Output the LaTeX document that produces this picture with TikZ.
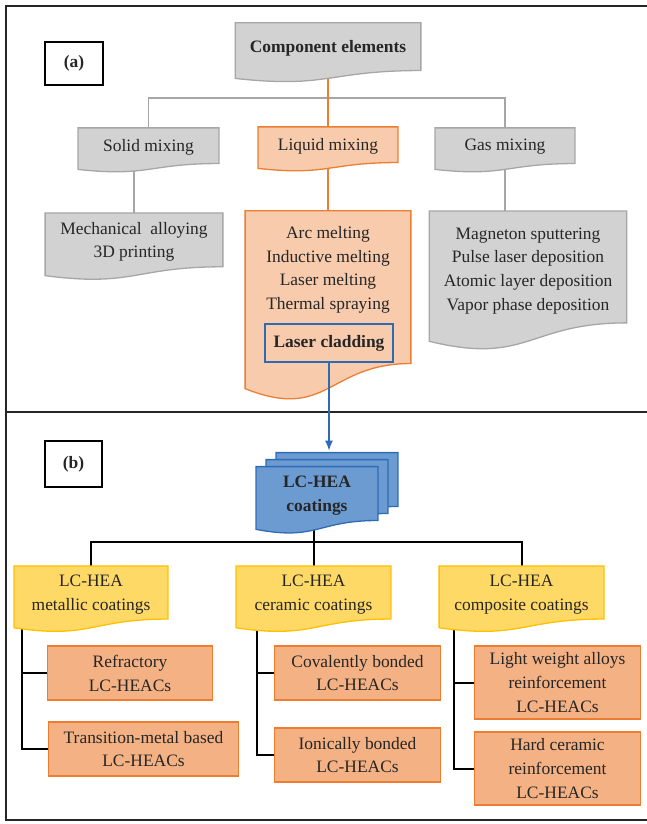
\documentclass[tikz,border=0pt]{standalone}
\usepackage{fontspec}
\setmainfont{Liberation Serif}
\newfontfamily\serifbox{Liberation Serif}
\usetikzlibrary{calc,backgrounds,arrows.meta}

\definecolor{peach}{RGB}{248,203,173}
\definecolor{darkpeach}{RGB}{244,177,131}
\definecolor{orangeline}{RGB}{237,125,49}
\definecolor{goldfill}{RGB}{255,217,102}
\definecolor{goldline}{RGB}{255,192,0}
\definecolor{bluefill}{RGB}{108,155,210}
\definecolor{blueline}{RGB}{46,107,181}

\newcommand{\boxfont}{\serifbox\fontsize{17.5}{24}\selectfont}
% wavy document outline between two corners of a node
\newcommand{\docoutline}[3]{%
  \path[#1] let \p1=(#2), \p2=(#3) in
    (\x1,\y1) -- (\x2,\y1) -- (\x2,{\y1+0.9324*(\y2-\y1)})
    .. controls ({0.5*(\x1+\x2)},{\y1+0.9324*(\y2-\y1)}) and ({0.5*(\x1+\x2)},{\y1+1.2878*(\y2-\y1)})
    .. (\x1,{\y1+1.0858*(\y2-\y1)}) -- cycle;}

\begin{document}
\begin{tikzpicture}[x=1bp, y=-1bp, font=\boxfont, text=black!85,
    doc/.style={inner sep=0pt, align=center},
    boldtxt/.style={font=\boxfont\bfseries},
    grayshape/.style={fill=gray!35, draw=gray!70, line width=1.3pt},
    peachshape/.style={fill=peach, draw=orangeline, line width=1.3pt},
    goldshape/.style={fill=goldfill, draw=goldline, line width=1.3pt},
    blueshape/.style={fill=bluefill, draw=blueline, line width=1.3pt},
    subbox/.style={fill=darkpeach, draw=orangeline, line width=1.5pt, inner sep=0pt, align=center},
    tagbox/.style={draw=black, line width=1.6pt, inner sep=0pt, boldtxt},
    grayline/.style={draw=gray!70, line width=1.6pt},
    orangelink/.style={draw=orangeline, line width=1.8pt},
    blackline/.style={draw=black, line width=2pt},
    frameline/.style={draw=black!85, line width=1.8pt}]

\useasboundingbox (0,0) rectangle (647,824);

% (a) part
\node[tagbox, minimum width=58, minimum height=43] (A) at (74,63.5) {(a)};
\node[doc, boldtxt, minimum width=186, minimum height=51] (CE) at (328,48.4) {Component elements};
\node[doc, minimum width=141, minimum height=38] (SM) at (148.5,147) {Solid mixing};
\node[doc, minimum width=140, minimum height=38] (LM) at (328,146) {Liquid mixing};
\node[doc, minimum width=140, minimum height=38] (GM) at (505,147) {Gas mixing};
\node[doc, minimum width=178, minimum height=57.6] (MA) at (134,241.8) {Mechanical\enspace alloying\\3D printing};
\node[doc, minimum width=166] (AM) at (328,292.7) {\parbox[c][163.4bp][t]{160bp}{\centering\vspace*{15bp}Arc melting\\Inductive melting\\Laser melting\\Thermal spraying}};
\node[fill=peach, draw=blueline, line width=1.5pt, inner sep=0pt, boldtxt, minimum width=128, minimum height=38] (LC) at (329,343) {Laser cladding};
\node[doc, minimum width=198, minimum height=120] (GD) at (528,271) {Magneton sputtering\\Pulse laser deposition\\Atomic layer deposition\\Vapor phase deposition};

% (b) part
\node[tagbox, minimum width=57, minimum height=46] (B) at (73.5,464) {(b)};
\node[doc, boldtxt, minimum width=122, minimum height=57.6] (CT) at (317,495.5) {LC-HEA\\coatings};
\node[doc, minimum width=154, minimum height=56.8] (MC) at (91,594.4) {LC-HEA\\metallic coatings};
\node[doc, minimum width=155, minimum height=56.8] (CC) at (313.5,594.4) {LC-HEA\\ceramic coatings};
\node[doc, minimum width=165, minimum height=56.8] (PC) at (521.5,594.4) {LC-HEA\\composite coatings};
\node[subbox, minimum width=166, minimum height=54] (RF) at (130,673) {Refractory\\LC-HEACs};
\node[subbox, minimum width=191, minimum height=54] (TM) at (143.5,749) {Transition-metal based\\LC-HEACs};
\node[subbox, minimum width=167, minimum height=54] (CB) at (357.5,673) {Covalently bonded\\LC-HEACs};
\node[subbox, minimum width=167, minimum height=54] (IB) at (357.5,755) {Ionically bonded\\LC-HEACs};
\node[subbox, minimum width=167, minimum height=73] (LW) at (557.5,682.5) {Light weight alloys\\reinforcement\\LC-HEACs};
\node[subbox, minimum width=167, minimum height=73] (HR) at (557.5,768.5) {Hard ceramic\\reinforcement\\LC-HEACs};

\begin{scope}[on background layer]
\draw[grayline] (SM.north) -- ++(0,-30) -| (GM.north);
\draw[grayline] (MA.north) -- (MA.north |- SM.south);
\draw[grayline] (GM.south) -- (GM.south |- GD.north);
\draw[orangelink] (CE.south) -- (LM.north);
\draw[orangelink] (LM.south) -- (AM.north);
\draw[blackline] (MC.north) -- ++(0,-24) -| (PC.north);
\draw[blackline] (CC.north) -- (CC.north |- CT.south);
\draw[blackline] ([xshift=8pt]MC.south west) |- (RF.west);
\draw[blackline] ([xshift=8pt]MC.south west) |- (TM.west);
\draw[blackline] ([xshift=21pt]CC.south west) |- (CB.west);
\draw[blackline] ([xshift=21pt]CC.south west) |- (IB.west);
\draw[blackline] ([xshift=15pt]PC.south west) |- (LW.west);
\draw[blackline] ([xshift=15pt]PC.south west) |- (HR.west);

\docoutline{grayshape}{CE.north west}{CE.south east}
\docoutline{grayshape}{SM.north west}{SM.south east}
\docoutline{peachshape}{LM.north west}{LM.south east}
\docoutline{grayshape}{GM.north west}{GM.south east}
\docoutline{grayshape}{MA.north west}{MA.south east}
\docoutline{peachshape}{AM.north west}{AM.south east}
\docoutline{grayshape}{GD.north west}{GD.south east}
\docoutline{blueshape}{[shift={(20,-14)}]CT.north west}{[shift={(20,-14)}]CT.south east}
\docoutline{blueshape}{[shift={(10,-7)}]CT.north west}{[shift={(10,-7)}]CT.south east}
\docoutline{blueshape}{CT.north west}{CT.south east}
\docoutline{goldshape}{MC.north west}{MC.south east}
\docoutline{goldshape}{CC.north west}{CC.south east}
\docoutline{goldshape}{PC.north west}{PC.south east}
\end{scope}

% frame
\draw[frameline] (647,6) -- (6,6) -- (6,820) -- (647,820);
\draw[frameline] (6,412) -- (647,412);

\draw[draw=blueline, line width=1.6pt, -{Latex[length=10pt,width=8pt]}, shorten >=16pt] (LC.south) -- (LC.south |- CT.north);
\end{tikzpicture}
\end{document}
